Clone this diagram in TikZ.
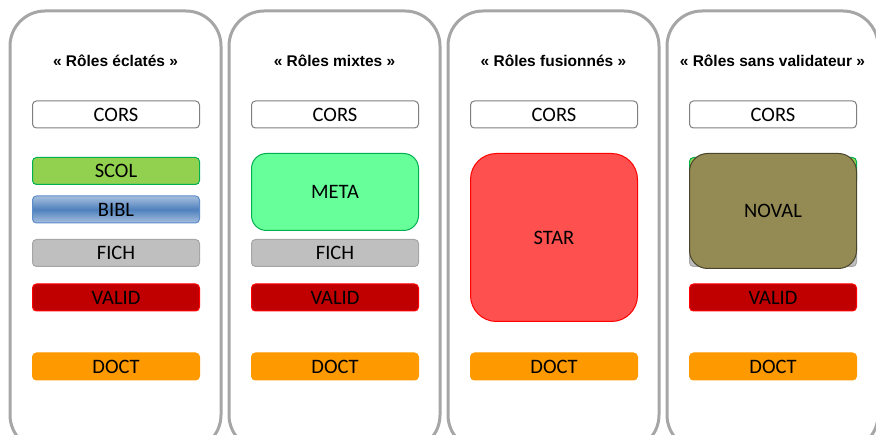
\documentclass[tikz,border=0pt]{standalone}
\usepackage{fontspec}
\setmainfont{Carlito}
\newfontfamily\titlefont{Liberation Sans}

\definecolor{panelgray}{HTML}{A6A6A6}
\definecolor{corsline}{HTML}{7F7F7F}
\definecolor{scolfill}{HTML}{92D050}
\definecolor{scolline}{HTML}{00B050}
\definecolor{biblmid}{HTML}{4F81BD}
\definecolor{bibledge}{HTML}{A7BFDE}
\definecolor{biblline}{HTML}{5B8BC9}
\definecolor{fichfill}{HTML}{BFBFBF}
\definecolor{fichline}{HTML}{A6A6A6}
\definecolor{validfill}{HTML}{C00000}
\definecolor{validline}{HTML}{FF0000}
\definecolor{doctfill}{HTML}{FF9900}
\definecolor{metafill}{HTML}{66FF99}
\definecolor{starfill}{HTML}{FF5050}
\definecolor{novalfill}{HTML}{948A54}
\definecolor{novalline}{HTML}{4A452A}

\tikzset{
  panel/.style={draw=panelgray, line width=3pt, rounded corners=35pt},
  heading/.style={font=\titlefont\bfseries\fontsize{15.5}{18}\selectfont},
  role/.style={rectangle, rounded corners=4pt, minimum width=167pt, minimum height=27pt,
    inner sep=0pt, line width=1pt, font=\fontsize{20.5}{24}\selectfont},
  cors/.style={role, draw=corsline, fill=white},
  scol/.style={role, draw=scolline, fill=scolfill},
  bibl/.style={role, draw=biblline, top color=bibledge, bottom color=bibledge, middle color=biblmid},
  fich/.style={role, draw=fichline, fill=fichfill},
  valid/.style={role, draw=validline, fill=validfill},
  doct/.style={role, draw=doctfill, fill=doctfill},
}

\begin{document}
\begin{tikzpicture}[x=1pt, y=-1pt]
\useasboundingbox (0,0) rectangle (876,435);
% the four columns
\foreach \px in {10,229,448,667}
  \draw[panel] (\px,11) rectangle ++(211,439);

% titles
\node[heading] (t1) at (115.5,61) {« Rôles éclatés »};
\node[heading] (t2) at (334.5,61) {« Rôles mixtes »};
\node[heading] (t3) at (553.5,61) {« Rôles fusionnés »};
\node[heading] (t4) at (772.5,61) {« Rôles sans validateur »};

% column 1
\node[cors]  (cors1)  at (116,114.5)   {CORS};
\node[scol]  (scol1)  at (116,171) {SCOL};
\node[bibl]  (bibl1)  at (116,209.5)   {BIBL};
\node[fich]  (fich1)  at (116,253) {FICH};
\node[valid] (valid1) at (116,297.5)   {VALID};
\node[doct]  (doct1)  at (116,366.5)   {DOCT};

% column 2
\node[cors]  (cors2)  at (335,114.5)   {CORS};
\node[role, draw=scolline, fill=metafill, minimum height=77pt, rounded corners=15pt]
  (meta2) at (335,192) {META};
\node[fich]  (fich2)  at (335,253) {FICH};
\node[valid] (valid2) at (335,297.5)   {VALID};
\node[doct]  (doct2)  at (335,366.5)   {DOCT};

% column 3
\node[cors]  (cors3)  at (554,114.5)   {CORS};
\node[role, draw=validline, fill=starfill, minimum height=168pt, rounded corners=26pt]
  (star3) at (554,237.5) {STAR};
\node[doct]  (doct3)  at (554,366.5)   {DOCT};

% column 4 (merged box hides the ones below it)
\node[cors]  (cors4)  at (773,114.5)   {CORS};
\node[scol]  (scol4)  at (773,171) {};
\node[fich]  (fich4)  at (773,253) {};
\node[role, draw=novalline, fill=novalfill, minimum height=115pt, rounded corners=18pt]
  (noval4) at (773,211) {NOVAL};
\node[valid] (valid4) at (773,297.5)   {VALID};
\node[doct]  (doct4)  at (773,366.5)   {DOCT};
\end{tikzpicture}
\end{document}
